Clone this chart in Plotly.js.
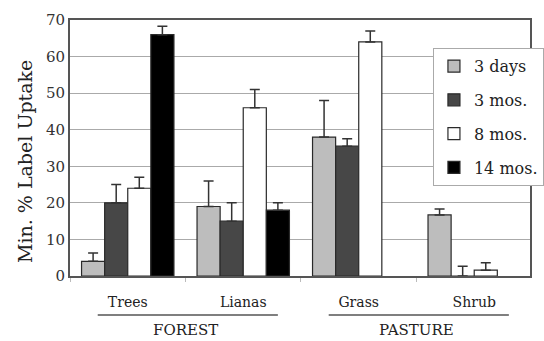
<!DOCTYPE html>
<html><head><meta charset="utf-8">
<script src="https://cdn.plot.ly/plotly-3.0.1.min.js"></script>
<style>html,body{margin:0;padding:0;background:#fff;}</style>
</head><body><div id="chart" style="width:544px;height:341px;"></div>
<script>
const categories = ['Trees', 'Lianas', 'Grass', 'Shrub'];
const groups = ['FOREST', 'PASTURE'];
const groupMembers = [[0, 1], [2, 3]];
const seriesNames = ['3 days', '3 mos.', '8 mos.', '14 mos.'];
const days3 = [4, 19, 38, 16.7];
const mos3 = [20, 15, 35.5, 0];
const mos8 = [24, 46, 64, 1.6];
const mos14 = [66, 18, null, null];
const err3days = [2.3, 7, 10, 1.6];
const err3mos = [5, 5, 2, 2.7];
const err8mos = [3, 5, 3, 2];
const err14mos = [2.3, 2, 0, 0];
const yTicks = [0, 10, 20, 30, 40, 50, 60, 70];

const values = [days3, mos3, mos8, mos14];
const errors = [err3days, err3mos, err8mos, err14mos];
const colors = ['#bdbdbd', '#474747', '#ffffff', '#000000'];
const xIdx = categories.map((c, i) => i);
const serif = 'DejaVu Serif, Liberation Serif, serif';

const traces = seriesNames.map((n, k) => ({
  type: 'bar', name: n, x: xIdx, y: values[k],
  legendgroup: 'g' + k,
  marker: {color: colors[k], line: {color: '#2a2a2a', width: 1.2}},
  error_y: {type: 'data', symmetric: false, array: errors[k],
            arrayminus: errors[k].map(() => 0),
            color: '#333', thickness: 1.5, width: 5}
}));

const shapes = [];
const annotations = [];
groups.forEach((g, i) => {
  const m = groupMembers[i];
  const a = m[0], b = m[m.length - 1];
  shapes.push({type: 'line', xref: 'x', yref: 'paper', x0: a - 0.26, x1: b + 0.3,
    y0: -0.152, y1: -0.152, line: {color: '#555', width: 1.5}});
  annotations.push({xref: 'x', yref: 'paper', x: (a + b) / 2, y: -0.211, text: g,
    xanchor: 'center', yanchor: 'middle',
    showarrow: false, font: {family: serif, size: 15, color: '#222'}});
});
annotations.push({xref: 'paper', yref: 'paper', x: -0.099, y: 0.447, textangle: -90,
  xanchor: 'center', yanchor: 'middle',
  text: 'Min. % Label Uptake', showarrow: false,
  font: {family: serif, size: 19, color: '#222'}});

const layout = {
  width: 544, height: 341,
  margin: {l: 70, r: 0, t: 20, b: 65},
  paper_bgcolor: '#fff', plot_bgcolor: '#fff',
  barmode: 'group', bargap: 0.2, bargroupgap: 0,
  showlegend: true,
  legend: {x: 0.789, y: 0.89, xanchor: 'left', yanchor: 'top',
    bgcolor: '#fff', bordercolor: '#aaa', borderwidth: 1,
    font: {family: serif, size: 16, color: '#222'}, tracegroupgap: 10,
    itemwidth: 30},
  xaxis: {range: [-0.5, 3.483], tickmode: 'array', tickvals: xIdx, ticktext: categories,
    ticks: '', showgrid: false, zeroline: false,
    showline: true, linecolor: '#555', linewidth: 2, mirror: true,
    tickfont: {family: serif, size: 14, color: '#222'}, ticklabelstandoff: 12,
    minor: {tickmode: 'array', tickvals: [-0.5, 0.5, 1.5, 2.5], ticks: 'outside',
      ticklen: 4, tickcolor: '#bbb', showgrid: false}},
  yaxis: {range: [0, 70], tickmode: 'array', tickvals: yTicks,
    showgrid: true, gridcolor: '#aaa', gridwidth: 1, zeroline: false,
    showline: true, linecolor: '#555', linewidth: 2, mirror: true,
    ticks: '', tickfont: {family: serif, size: 15, color: '#333'}},
  shapes: shapes, annotations: annotations
};
Plotly.newPlot('chart', traces, layout, {displayModeBar: false, staticPlot: true});
</script></body></html>
